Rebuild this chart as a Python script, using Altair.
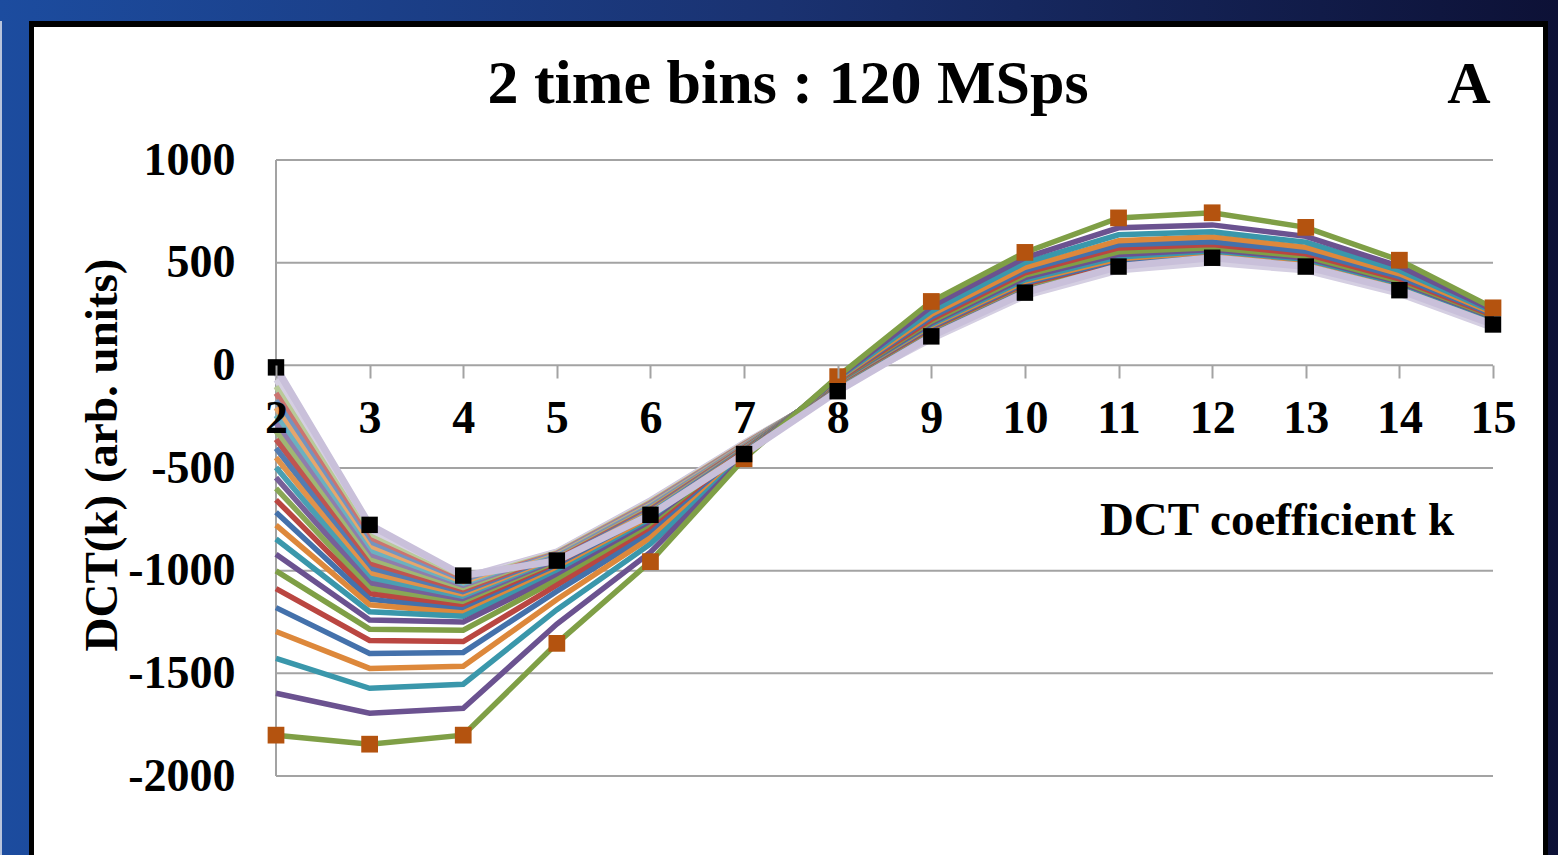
import altair as alt
import pandas as pd

# DCT coefficient index on the horizontal axis
coeff_k = [2, 3, 4, 5, 6, 7, 8, 9, 10, 11, 12, 13, 14, 15]

# DCT(k) of each trace, one list per coefficient (trace 0 ... trace 27).
# Trace 0 carries the black markers, trace 27 the orange markers.
dct_k2 = [-10, -40, -71, -103, -136, -171, -207, -244, -282, -321, -361, -404, -449, -497,
          -547, -599, -655, -715, -778, -846, -920, -1001, -1087, -1180, -1296, -1427, -1597, -1801]
dct_k3 = [-777, -795, -812, -830, -848, -867, -886, -906, -926, -947, -968, -990, -1013, -1037,
          -1061, -1086, -1112, -1139, -1166, -1200, -1240, -1285, -1340, -1403, -1476, -1573, -1694, -1845]
dct_k4 = [-1024, -1032, -1040, -1048, -1056, -1064, -1073, -1082, -1091, -1100, -1110, -1120, -1130, -1141,
          -1152, -1164, -1177, -1191, -1206, -1222, -1250, -1290, -1345, -1398, -1466, -1553, -1670, -1801]
dct_k5 = [-951, -905, -908, -912, -916, -920, -924, -929, -934, -939, -944, -950, -956, -962,
          -968, -975, -982, -990, -999, -1010, -1025, -1045, -1070, -1100, -1140, -1190, -1260, -1354]
dct_k6 = [-728, -655, -660, -665, -670, -675, -680, -685, -690, -696, -702, -708, -714, -720,
          -727, -734, -741, -749, -757, -766, -776, -788, -802, -818, -840, -870, -910, -956]
dct_k7 = [-432, -375, -378, -381, -384, -387, -390, -393, -396, -399, -402, -405, -408, -411,
          -414, -417, -420, -423, -426, -429, -432, -435, -438, -441, -444, -447, -450, -455]
dct_k8 = [-126, -118, -115, -113, -110, -108, -105, -103, -100, -98, -96, -93, -91, -89,
          -87, -85, -83, -81, -79, -77, -75, -73, -71, -68, -66, -63, -60, -55]
dct_k9 = [141, 133, 126, 144, 146, 148, 150, 152, 154, 157, 160, 163, 166, 170,
          174, 178, 183, 188, 194, 200, 207, 215, 224, 235, 248, 263, 286, 311]
dct_k10 = [354, 344, 336, 360, 362, 364, 366, 368, 370, 372, 374, 377, 380, 383,
           387, 391, 396, 402, 409, 417, 427, 439, 451, 463, 477, 500, 524, 550]
dct_k11 = [481, 470, 460, 483, 484, 485, 486, 487, 488, 489, 490, 491, 492, 494,
           497, 501, 506, 512, 519, 528, 540, 553, 572, 587, 607, 636, 670, 718]
dct_k12 = [524, 510, 498, 527, 528, 529, 530, 531, 532, 533, 534, 535, 536, 538,
           540, 542, 545, 548, 552, 557, 564, 573, 588, 602, 626, 650, 684, 743]
dct_k13 = [481, 470, 460, 484, 485, 486, 487, 488, 489, 490, 491, 492, 493, 495,
           497, 500, 503, 507, 511, 516, 523, 531, 543, 556, 575, 600, 628, 672]
dct_k14 = [366, 355, 347, 369, 370, 371, 372, 373, 374, 375, 376, 377, 378, 380,
           382, 384, 387, 390, 394, 399, 405, 412, 421, 432, 446, 462, 482, 512]
dct_k15 = [199, 188, 180, 203, 204, 206, 207, 208, 209, 210, 211, 213, 214, 215,
           217, 219, 221, 224, 227, 230, 234, 238, 243, 249, 255, 262, 270, 280]

y_ticks = [-2000, -1500, -1000, -500, 0, 500, 1000]
grid_values = [-2000, -1500, -1000, -500, 0, 500, 1000]

dct_columns = [dct_k2, dct_k3, dct_k4, dct_k5, dct_k6, dct_k7, dct_k8,
               dct_k9, dct_k10, dct_k11, dct_k12, dct_k13, dct_k14, dct_k15]

rows = []
for k, column in zip(coeff_k, dct_columns):
    for i, v in enumerate(column):
        rows.append({"k": k, "trace": i, "name": f"t{i:02d}", "dct": v})
df = pd.DataFrame(rows)
n_traces = len(dct_k2)

# ---- line colours: office-style cycle, counted upward from the outermost trace
cycle = ["#7f9f46", "#6b5290", "#3a97ab", "#dd883b", "#4471ab", "#ba4641"]


def tint(hex_color, amount):
    r, g, b = (int(hex_color[j:j + 2], 16) for j in (1, 3, 5))
    r, g, b = (round(c + (255 - c) * amount) for c in (r, g, b))
    return f"#{r:02x}{g:02x}{b:02x}"


names, colors = [], []
for i in range(1, n_traces):
    pos = n_traces - 1 - i
    block = pos // 6
    amount = [0.0, 0.0, 0.08, 0.25, 0.45][min(block, 4)]
    c = tint(cycle[pos % 6], amount)
    if i == 1:
        c = "#cdc4dd"
    elif i == 2:
        c = "#d5cfe2"
    names.append(f"t{i:02d}")
    colors.append(c)

W, H = 1217, 616
PAD_L, PAD_T = 276, 160
SERIF = "Liberation Serif"
GRID = "#a3a3a3"

one = pd.DataFrame({"z": [0]})

x_scale = alt.Scale(domain=[2, 15], nice=False, zero=False)
y_scale = alt.Scale(domain=[-2000, 1000], nice=False, zero=False)

# ---- backdrop: blue slide gradient, black frame, white panel
backdrop = alt.Chart(one).mark_rect(
    color=alt.LinearGradient(
        gradient="linear",
        stops=[alt.GradientStop(color="#1c4c9f", offset=0),
               alt.GradientStop(color="#1a3271", offset=0.5),
               alt.GradientStop(color="#0d1136", offset=1)],
        x1=0, x2=1, y1=0, y2=0)
).encode(x=alt.value(-PAD_L), x2=alt.value(1558 - PAD_L),
         y=alt.value(-PAD_T), y2=alt.value(855 - PAD_T))

edge = alt.Chart(one).mark_rect(color="#b8c4dc").encode(
    x=alt.value(-PAD_L), x2=alt.value(-PAD_L + 2),
    y=alt.value(21 - PAD_T), y2=alt.value(855 - PAD_T))

frame = alt.Chart(one).mark_rect(color="#000000").encode(
    x=alt.value(29 - PAD_L), x2=alt.value(1548 - PAD_L),
    y=alt.value(21 - PAD_T), y2=alt.value(855 - PAD_T))

panel = alt.Chart(one).mark_rect(color="#ffffff").encode(
    x=alt.value(34 - PAD_L), x2=alt.value(1543 - PAD_L),
    y=alt.value(27 - PAD_T), y2=alt.value(855 - PAD_T))

# ---- horizontal gridlines (incl. the zero line) and the vertical value axis line
grid = alt.Chart(pd.DataFrame({"v": grid_values})).mark_rule(
    color=GRID, strokeWidth=2
).encode(y=alt.Y("v:Q", scale=y_scale), x=alt.value(0), x2=alt.value(W))

y_line = alt.Chart(one).mark_rule(color=GRID, strokeWidth=2).encode(
    x=alt.value(0), y=alt.value(0), y2=alt.value(H))

base = alt.Chart(df)

x_enc = alt.X(
    "k:Q", scale=x_scale,
    axis=alt.Axis(values=coeff_k, offset=-(H - round(H / 3)), title=None, grid=False,
                  domain=False, tickColor=GRID, tickWidth=2,
                  tickSize=13, labelFont=SERIF, labelFontWeight="bold", labelFontSize=46,
                  labelColor="#000000", labelPadding=18, labelFlush=False,
                  labelOverlap=False, labelExpr="'' + datum.value", zindex=1))
y_enc = alt.Y(
    "dct:Q", scale=y_scale,
    axis=alt.Axis(values=y_ticks, title=None, grid=False, ticks=False, domain=False,
                  labelFont=SERIF, labelFontWeight="bold", labelFontSize=46,
                  labelColor="#000000", labelPadding=41,
                  labelExpr="'' + datum.value", zindex=1))

traces = base.transform_filter("datum.trace > 0").mark_line(
    strokeWidth=5.5, strokeJoin="miter"
).encode(
    x=x_enc, y=y_enc,
    color=alt.Color("name:N", scale=alt.Scale(domain=names, range=colors), legend=None),
)

lavender = base.transform_filter("datum.trace == 0").mark_line(
    color="#c9c0da", strokeWidth=7, strokeJoin="miter"
).encode(x=alt.X("k:Q", scale=x_scale), y=alt.Y("dct:Q", scale=y_scale))

orange_pts = base.transform_filter(f"datum.trace == {n_traces - 1}").mark_square(
    color="#b4530f", size=280, opacity=1
).encode(x=alt.X("k:Q", scale=x_scale), y=alt.Y("dct:Q", scale=y_scale))

black_pts = base.transform_filter("datum.trace == 0").mark_square(
    color="#000000", size=270, opacity=1
).encode(x=alt.X("k:Q", scale=x_scale), y=alt.Y("dct:Q", scale=y_scale))


def label(text, x, y, size, angle=0, align="center", baseline="alphabetic"):
    return alt.Chart(pd.DataFrame({"t": [text]})).mark_text(
        font=SERIF, fontWeight="bold", fontSize=size, color="#000000",
        align=align, baseline=baseline, angle=angle
    ).encode(text="t:N", x=alt.value(x), y=alt.value(y))


title = label("2 time bins : 120 MSps", 788 - PAD_L, 103 - PAD_T, 62)
panel_tag = label("A", 1469 - PAD_L, 103 - PAD_T, 60)
x_title = label("DCT coefficient k", 1277 - PAD_L, 535 - PAD_T, 47)
y_title = label("DCT(k) (arb. units)", 103 - PAD_L, 455 - PAD_T, 47,
                angle=270, baseline="middle")

chart = alt.layer(
    backdrop, edge, frame, panel, grid, y_line, traces, lavender, orange_pts, black_pts,
    title, panel_tag, x_title, y_title
).properties(
    width=W, height=H,
    padding={"left": PAD_L, "top": PAD_T, "right": 1558 - PAD_L - W, "bottom": 855 - PAD_T - H},
    autosize=alt.AutoSizeParams(type="none"),
).configure_view(stroke=None)

chart.save("out.html", embed_options={"renderer": "svg", "actions": False})
